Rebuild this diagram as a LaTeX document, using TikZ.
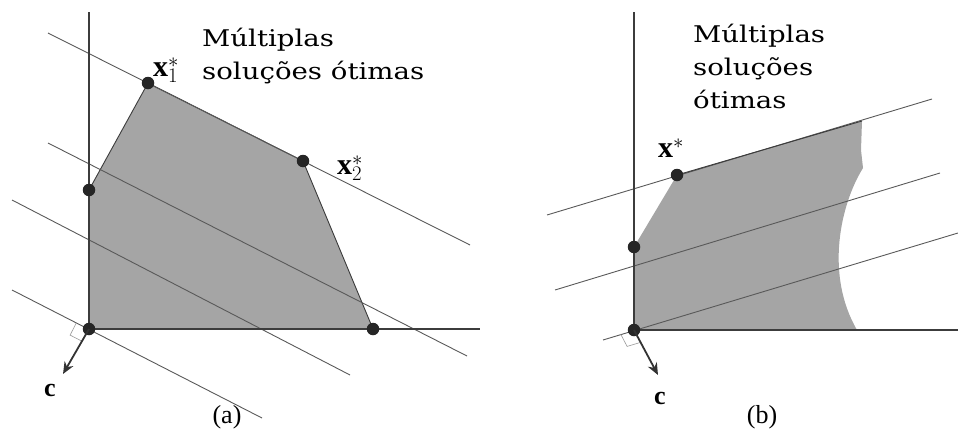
\documentclass[tikz,border=0pt]{standalone}
\usepackage{fontspec}
\setmainfont{Liberation Serif}
\newfontfamily\titre[FakeStretch=1.2]{DejaVu Serif}
\usetikzlibrary{arrows.meta,backgrounds}
\definecolor{figGris}{RGB}{165,165,165}
\definecolor{figTrait}{RGB}{60,60,60}

\begin{document}
\begin{tikzpicture}[
  x=1pt, y=-1pt,
  axe/.style={draw=figTrait, line width=1.4pt},
  niveau/.style={draw=figTrait!85, line width=0.9pt},
  region/.style={fill=figGris},
  bord/.style={draw=figTrait, line width=0.9pt},
  sommet/.style={circle, fill=black!85, inner sep=0pt, minimum size=12.5pt},
  vecteur/.style={-{Stealth[length=12pt,width=10pt]}, line width=1.8pt, draw=black!80},
  droit/.style={draw=black!40, line width=0.6pt},
  etiq/.style={font=\fontsize{26}{26}\selectfont, inner sep=0pt},
  point/.style={font=\fontsize{30}{30}\selectfont, inner sep=0pt},
  legende/.style={font=\titre\fontsize{23}{33}\selectfont, align=left, inner sep=0pt,
                  anchor=base west}
]
\useasboundingbox (0,0) rectangle (958,439);

% (a) polyedre borne
\fill[region] (89,329) -- (89,190) -- (148,83) -- (303,161) -- (373,329) -- cycle;
\draw[bord] (89,190) -- (148,83) -- (303,161) -- (373,329);

\draw[niveau] (48,33) -- (470,245);
\draw[niveau] (48,143) -- (467,356);
\draw[niveau] (12,200) -- (350,375);
\draw[niveau] (12,290) -- (262,418);

\draw[axe] (89,12) -- (89,329) -- (480,329);
\draw[droit] (76.5,322.6) -- (70.1,335.1) -- (82.6,341.5);

\node[sommet] (oa) at (89,329) {};
\node[sommet] (ya) at (89,190) {};
\node[sommet] (x1) at (148,83) {};
\node[sommet] (x2) at (303,161) {};
\node[sommet] (xa) at (373,329) {};

\coordinate (ca) at (63,374);
\draw[vecteur] (oa.center) -- (ca);
\node[etiq] (lca) at (50,390) {\textbf{c}};
\node[point] (lx1) at (166,70) {$\mathbf{x}_1^*$};
\node[point] (lx2) at (350,168) {$\mathbf{x}_2^*$};
\node[legende] (ta) at (202,79) {Múltiplas\\soluções ótimas};
\node[etiq] (sa) at (227,417) {(a)};

% (b) polyedre non borne
\fill[region] (634,330) -- (634,247) -- (677,175) -- (862,121) -- (861,150) -- (863,168)
      .. controls (840,205) and (825,275) .. (857,330) -- cycle;

\draw[niveau] (547,215) -- (932,99);
\draw[niveau] (555,290) -- (940,173);
\draw[niveau] (603,340) -- (958,233);
\draw[bord] (677,175) -- (862,121);

\draw[axe] (634,12) -- (634,330) -- (958,330);
\draw[droit] (620.6,334) -- (627.1,346.4) -- (640.5,342.4);

\node[sommet] (ob) at (634,330) {};
\node[sommet] (yb) at (634,247) {};
\node[sommet] (xs) at (677,175) {};

\coordinate (cb) at (658,375);
\draw[vecteur] (ob.center) -- (cb);
\node[etiq] (lcb) at (660,398) {\textbf{c}};
\node[point] (lxs) at (671,148) {$\mathbf{x}^*$};
\node[legende] (tb) at (693,108) {Múltiplas\\soluções\\ótimas};
\node[etiq] (sb) at (762,417) {(b)};
\end{tikzpicture}
\end{document}
